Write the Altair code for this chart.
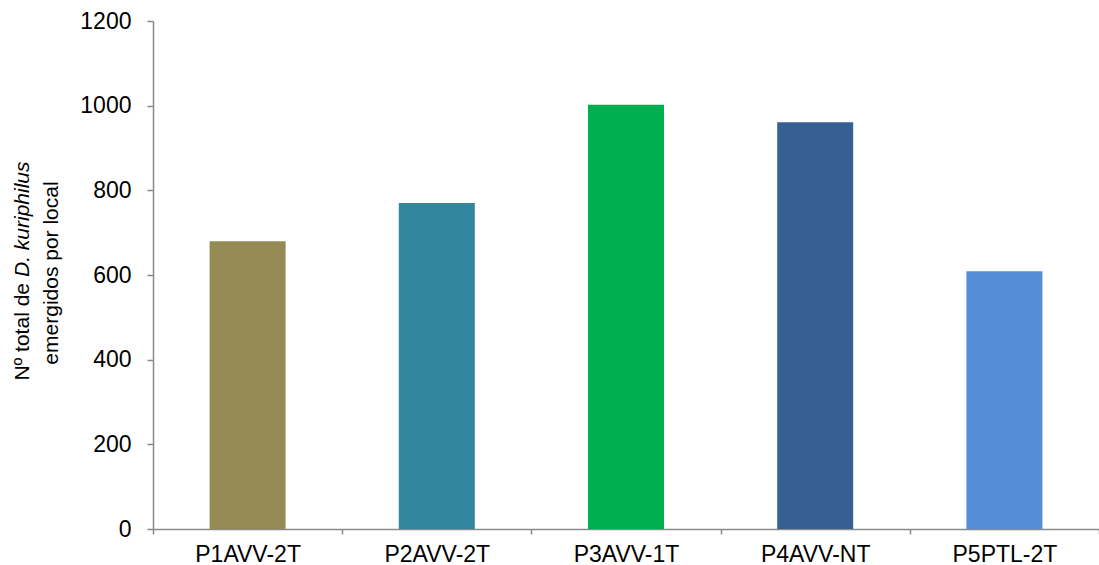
import altair as alt
import pandas as pd

# Emerged D. kuriphilus per site
sites = ["P1AVV-2T", "P2AVV-2T", "P3AVV-1T", "P4AVV-NT", "P5PTL-2T"]
totals = [680, 770, 1002, 961, 609]
bar_colors = ["#948A54", "#31859C", "#00B050", "#376092", "#558ED5"]
y_ticks = [0, 200, 400, 600, 800, 1000, 1200]

df = pd.DataFrame({"site": sites, "total": totals})

FONT = "Liberation Sans"
AXIS_GRAY = "#8a8a8a"

bars = alt.Chart(df).mark_bar(size=76).encode(
    x=alt.X(
        "site:N",
        sort=sites,
        scale=alt.Scale(paddingInner=0, paddingOuter=0),
        axis=alt.Axis(
            title=None,
            labelAngle=0,
            tickBand="extent",
            tickSize=5,
            tickColor=AXIS_GRAY,
            tickWidth=1.5,
            domainColor=AXIS_GRAY,
            domainWidth=1.5,
            labelFont=FONT,
            labelFontSize=23,
            labelColor="#000000",
            labelPadding=9,
        ),
    ),
    y=alt.Y(
        "total:Q",
        scale=alt.Scale(domain=[0, 1200], nice=False),
        axis=alt.Axis(
            title=None,
            values=y_ticks,
            format="d",
            grid=False,
            tickSize=6,
            tickColor=AXIS_GRAY,
            tickWidth=1.5,
            domainColor=AXIS_GRAY,
            domainWidth=1.5,
            labelFont=FONT,
            labelFontSize=23,
            labelColor="#000000",
            labelPadding=16,
        ),
    ),
    color=alt.Color(
        "site:N",
        scale=alt.Scale(domain=sites, range=bar_colors),
        legend=None,
    ),
)

# Y-axis title, drawn as text so that the species name can be italic;
# the plain and italic pieces sit a word-space apart along the rotated line
title_plain = alt.Chart(pd.DataFrame({"t": ["Nº total de"]})).mark_text(
    angle=270, align="right", baseline="middle", font=FONT, fontSize=21, color="#000000"
).encode(text="t:N", x=alt.value(-130), y=alt.value(262))

title_italic = alt.Chart(pd.DataFrame({"t": ["D. kuriphilus"]})).mark_text(
    angle=270, align="left", baseline="middle", font=FONT, fontSize=21,
    fontStyle="italic", color="#000000"
).encode(text="t:N", x=alt.value(-130), y=alt.value(256))

title_second = alt.Chart(pd.DataFrame({"t": ["emergidos por local"]})).mark_text(
    angle=270, align="center", baseline="middle", font=FONT, fontSize=21, color="#000000"
).encode(text="t:N", x=alt.value(-101), y=alt.value(252))

chart = alt.layer(bars, title_plain, title_italic, title_second).properties(
    width=946,
    height=508,
    autosize=alt.AutoSizeParams(type="none"),
    padding={"left": 153, "top": 21, "right": 0, "bottom": 36},
    background="#ffffff",
).configure_view(stroke=None)

chart.save("out.html", embed_options={"renderer": "svg", "actions": False})
